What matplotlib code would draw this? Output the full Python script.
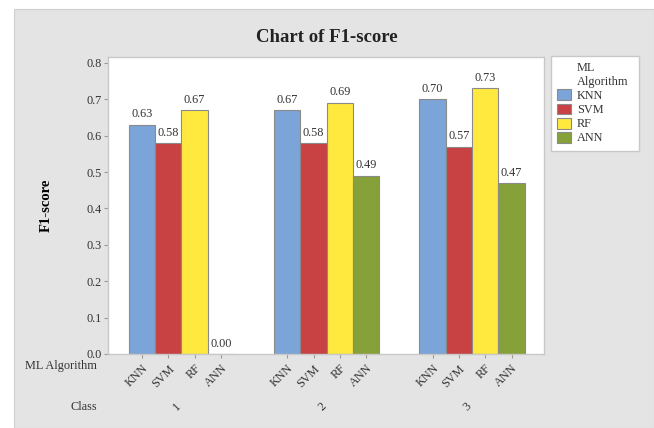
import matplotlib

matplotlib.use("Agg")

import matplotlib.pyplot as plt
import numpy as np
from matplotlib.patches import Patch, Rectangle
from matplotlib.transforms import blended_transform_factory

# Datos del grafico
classes = ["1", "2", "3"]
algorithms = ["KNN", "SVM", "RF", "ANN"]
f1_knn = [0.63, 0.67, 0.70]
f1_svm = [0.58, 0.58, 0.57]
f1_rf = [0.67, 0.69, 0.73]
f1_ann = [0.00, 0.49, 0.47]
yticks = [0.0, 0.1, 0.2, 0.3, 0.4, 0.5, 0.6, 0.7, 0.8]

colors = ["#7BA4D8", "#C94243", "#FFE93E", "#86A13A"]
series = [f1_knn, f1_svm, f1_rf, f1_ann]

plt.rcParams["font.family"] = ["Liberation Serif", "DejaVu Serif"]
TXT = "#333333"

fig = plt.figure(figsize=(6.54, 4.28), dpi=100, facecolor="white")
W, H = 654, 428

# panel gris de fondo
fig.patches.append(Rectangle((14 / W, 0), 1 - 14 / W, 1 - 9 / H,
                             transform=fig.transFigure, facecolor="#E4E4E4",
                             edgecolor="#CFCFCF", linewidth=0.8, zorder=-10))

ax = fig.add_axes([108 / W, 1 - 354 / H, (544 - 108) / W, (354 - 57) / H])
ax.set_facecolor("white")

bw = 0.181
x = np.arange(len(classes))
tick_pos, tick_lab = [], []
for i, (vals, col) in enumerate(zip(series, colors)):
    pos = x + (i - 1.5) * bw
    ax.bar(pos, vals, width=bw, color=col, edgecolor="#8A8A8A", linewidth=0.8, zorder=2)
    for p, v in zip(pos, vals):
        ax.text(p, v + 0.012, f"{v:.2f}", ha="center", va="bottom",
                fontsize=8.8, color=TXT)
    tick_pos.extend(pos)
    tick_lab.extend([algorithms[i]] * len(pos))

ax.set_xlim(-0.505, 2.495)
ax.set_ylim(0, 0.816)
ax.set_yticks(yticks)
ax.set_yticklabels([f"{t:.1f}" for t in yticks], fontsize=8.8, color=TXT)
ax.set_xticks(tick_pos)
ax.set_xticklabels(tick_lab, rotation=45, ha="right", rotation_mode="anchor",
                   fontsize=8.8, color=TXT)
ax.tick_params(axis="both", color="#9A9A9A", length=3, width=0.8)
ax.tick_params(axis="x", pad=3)
ax.tick_params(axis="y", pad=1.5)
for s in ax.spines.values():
    s.set_color("#C8C8C8")
    s.set_linewidth(1.0)

ax.set_ylabel("F1-score", fontsize=10.5, fontweight="bold", labelpad=24, color="black")

# etiquetas de clase bajo cada grupo
tr = blended_transform_factory(ax.transData, fig.transFigure)
for xi, c in zip(x, classes):
    ax.text(xi - 0.03, 1 - 407 / H, c, transform=tr, rotation=45, ha="center",
            va="center", fontsize=8.8, color=TXT)

fig.text(97 / W, 1 - 366 / H, "ML Algorithm", ha="right", va="center",
         fontsize=8.8, color=TXT)
fig.text(97 / W, 1 - 407 / H, "Class", ha="right", va="center",
         fontsize=8.8, color=TXT)

fig.text(0.5, 1 - 37 / H, "Chart of F1-score", ha="center", va="center",
         fontsize=13.5, fontweight="bold", color="#222222")

# leyenda
handles = [Patch(facecolor="none", edgecolor="none")]
labels = ["ML\nAlgorithm"] + algorithms
for col, name in zip(colors, algorithms):
    handles.append(Patch(facecolor=col, edgecolor="#8A8A8A", linewidth=0.8))
leg = fig.legend(handles, labels, loc="upper left",
                 bbox_to_anchor=(551 / W, 1 - 56 / H, 88 / W, 0), mode="expand",
                 fancybox=False, frameon=True, fontsize=8.8, handlelength=1.1,
                 handleheight=1.0, handletextpad=0.5, labelspacing=0.12,
                 borderpad=0.5, borderaxespad=0)
leg.get_frame().set_edgecolor("#C8C8C8")
leg.get_frame().set_linewidth(1.0)
leg.get_frame().set_facecolor("white")
leg.get_frame().set_alpha(1.0)
for t in leg.get_texts():
    t.set_color(TXT)

fig.savefig("out.png", dpi=100)
